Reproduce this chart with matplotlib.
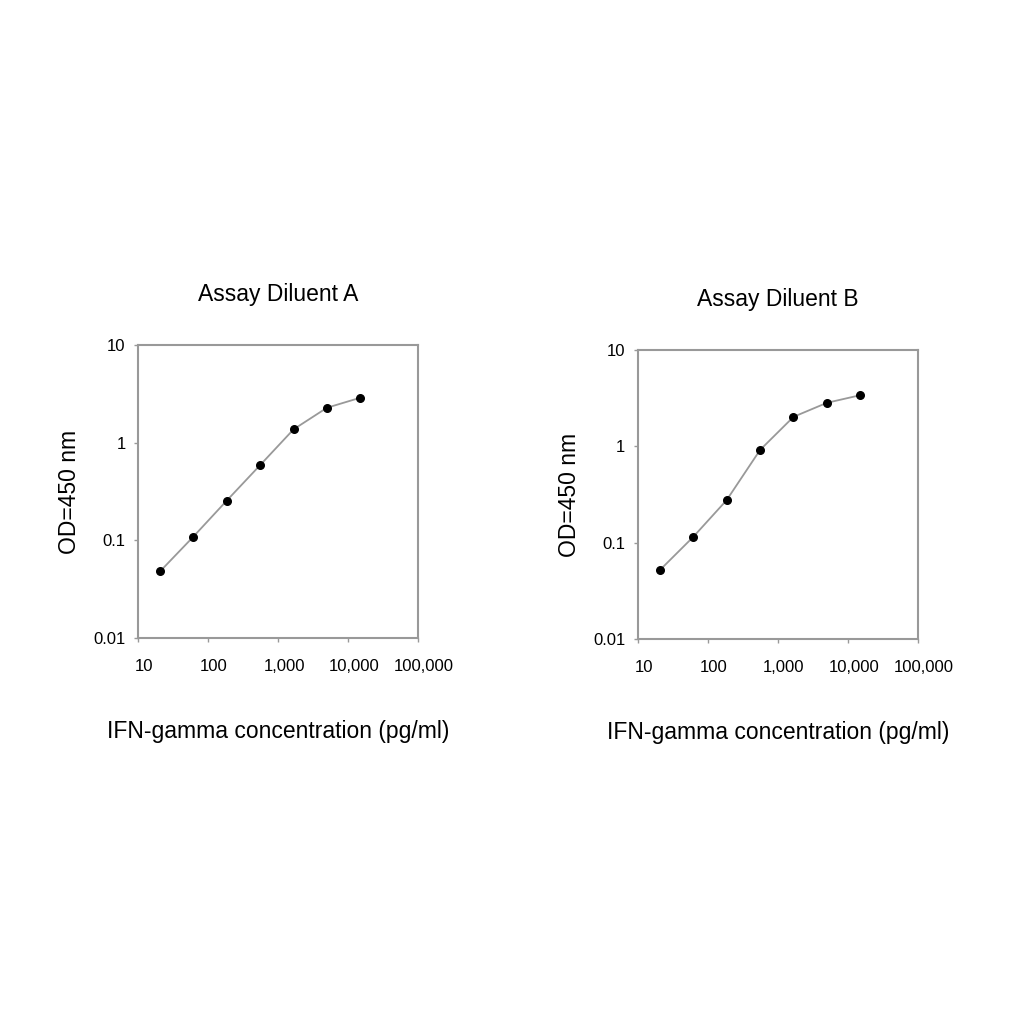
import matplotlib
matplotlib.use("Agg")
import matplotlib.pyplot as plt
from matplotlib.transforms import ScaledTranslation

conc = [20.6, 61.7, 185, 556, 1667, 5000, 15000]
od_a = [0.048, 0.109, 0.255, 0.59, 1.37, 2.28, 2.89]
od_b = [0.052, 0.115, 0.277, 0.92, 2.03, 2.84, 3.41]

titles = ["Assay Diluent A", "Assay Diluent B"]
xticks = [10, 100, 1000, 10000, 100000]
xticklabels = ["10", "100", "1,000", "10,000", "100,000"]
yticks = [0.01, 0.1, 1, 10]
yticklabels = ["0.01", "0.1", "1", "10"]

plt.rcParams['font.family'] = ['Liberation Sans', 'DejaVu Sans']

fig = plt.figure(figsize=(10.24, 10.24), dpi=100)
positions = [[0.1348, 0.377, 0.2734, 0.286], [0.623, 0.376, 0.2734, 0.282]]
shift = ScaledTranslation(6 / 100, 0, fig.dpi_scale_trans)

for pos, title, od in zip(positions, titles, [od_a, od_b]):
    ax = fig.add_axes(pos)
    ax.plot(conc, od, color='#999999', lw=1.3, zorder=1)
    ax.scatter(conc, od, color='black', s=30, zorder=2)
    ax.set_xscale('log')
    ax.set_yscale('log')
    ax.set_xlim(10, 100000)
    ax.set_ylim(0.01, 10)
    ax.set_xticks(xticks)
    ax.set_xticklabels(xticklabels)
    ax.set_yticks(yticks)
    ax.set_yticklabels(yticklabels)
    ax.minorticks_off()
    ax.tick_params(length=3, width=1, color='#999999', labelsize=12)
    ax.tick_params(axis='x', pad=12)
    ax.tick_params(axis='y', pad=6)
    for lab in ax.get_xticklabels():
        lab.set_transform(lab.get_transform() + shift)
    for s in ax.spines.values():
        s.set_color('#999999')
        s.set_linewidth(1.5)
    ax.set_title(title, fontsize=16.5, pad=32)
    ax.set_xlabel("IFN-gamma concentration (pg/ml)", fontsize=16.5, labelpad=33)
    ax.set_ylabel("OD=450 nm", fontsize=16.5, labelpad=9)

fig.savefig("out.png", dpi=100)
